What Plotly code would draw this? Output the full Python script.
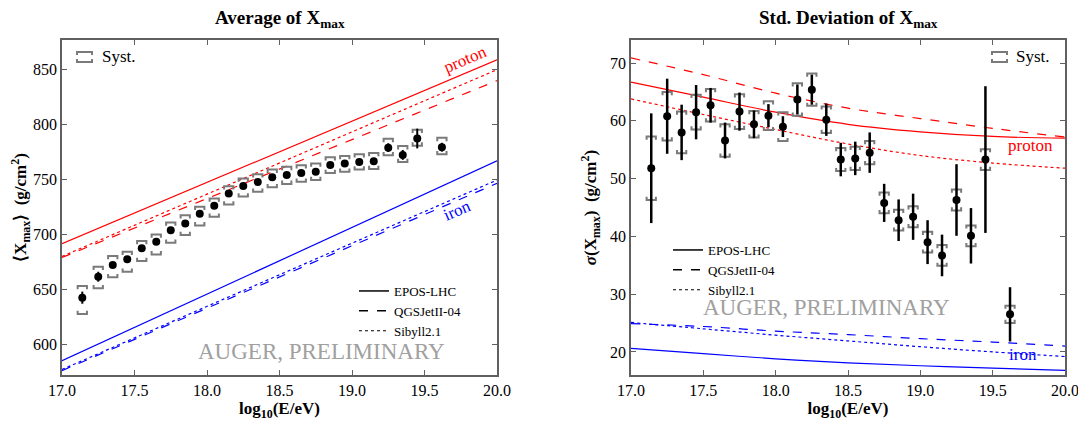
import plotly.graph_objects as go

# ---------------- data ----------------
lgE = [17.14, 17.25, 17.35, 17.45, 17.55, 17.65, 17.75, 17.85, 17.95, 18.05,
       18.15, 18.25, 18.35, 18.45, 18.55, 18.65, 18.75, 18.85, 18.95, 19.05,
       19.15, 19.25, 19.35, 19.45, 19.62]

xmax_mean = [642.4, 661.5, 672.1, 677.3, 687.3, 693.3, 703.9, 710.0, 718.7, 726.0,
             737.3, 744.0, 747.8, 752.0, 754.0, 756.0, 757.0, 763.3, 764.5, 766.0,
             766.6, 779.0, 772.4, 787.3, 779.4]
xmax_stat = [5.5, 4.5, 2.5, 2.5, 2.0, 2.0, 2.0, 2.0, 2.0, 2.0,
             2.0, 2.0, 2.0, 2.0, 2.0, 2.0, 2.0, 2.0, 2.0, 2.5,
             3.0, 4.0, 4.5, 9.0, 4.0]
xmax_sys_up = [10.6, 9.1, 8.2, 7.0, 6.7, 6.7, 7.0, 7.5, 6.5, 6.7,
               6.5, 7.0, 7.0, 7.0, 7.5, 7.0, 7.5, 7.0, 7.0, 7.0,
               7.5, 8.0, 8.0, 8.0, 8.5]
xmax_sys_dn = [14.8, 10.6, 11.2, 11.3, 11.5, 11.5, 11.5, 10.6, 10.5, 10.0,
               10.0, 9.5, 9.0, 9.0, 8.0, 8.0, 7.5, 7.5, 7.5, 7.0,
               7.0, 7.0, 6.5, 6.5, 6.5]

sigma = [51.8, 60.8, 58.0, 61.5, 62.7, 56.6, 61.6, 59.4, 60.9, 59.0,
         63.7, 65.4, 60.2, 53.3, 53.5, 54.5, 45.8, 42.8, 43.4, 39.0,
         36.7, 46.3, 40.1, 53.3, 26.5]
sigma_stat = [9.5, 6.5, 4.8, 4.7, 3.0, 3.1, 3.3, 2.4, 2.0, 1.8,
              2.6, 2.6, 2.8, 2.9, 2.9, 3.5, 3.3, 3.6, 4.0, 3.8,
              3.6, 6.2, 4.8, 12.7, 4.7]
sigma_sys = [5.5, 4.2, 3.6, 3.0, 2.8, 2.8, 3.0, 2.3, 2.5, 2.5,
             2.8, 2.8, 2.3, 2.0, 2.0, 2.0, 1.8, 1.8, 1.8, 1.8,
             1.8, 1.8, 1.8, 1.8, 1.5]

# model predictions, <Xmax> (straight lines: end points)
model_lgE_mean = [17.0, 20.0]
epos_p_mean = [691.5, 859.0]
qgs_p_mean = [679.0, 840.0]
sib_p_mean = [680.0, 850.0]
epos_fe_mean = [585.0, 767.0]
qgs_fe_mean = [576.0, 746.5]
sib_fe_mean = [577.0, 749.5]

# model predictions, sigma(Xmax)
model_lgE_sig = [17.0, 17.5, 18.0, 18.5, 19.0, 19.5, 20.0]
epos_p_sig = [66.7, 64.1, 61.5, 59.4, 58.1, 57.3, 57.0]
qgs_p_sig = [70.9, 68.0, 64.8, 62.2, 60.4, 58.7, 57.2]
sib_p_sig = [63.8, 61.1, 58.5, 56.0, 54.0, 52.7, 51.8]
epos_fe_sig = [20.6, 19.7, 18.8, 18.1, 17.6, 17.2, 16.8]
qgs_fe_sig = [24.9, 24.4, 23.6, 23.0, 22.3, 21.7, 21.0]
sib_fe_sig = [25.1, 24.0, 22.9, 21.9, 20.9, 20.0, 19.2]

model_names = ["EPOS-LHC", "QGSJetII-04", "Sibyll2.1"]

# ---------------- styling ----------------
FONT = "Times New Roman, serif"
# the page body has an 8px margin: figure is drawn 8px in from the window corner
OFF = 8
W, H = 1086 - OFF, 424 - OFF
ML, MR, MT, MB = 62 - OFF, 21, 40 - OFF, 49
PW, PH = W - ML - MR, H - MT - MB
RED, BLUE, GRAY, AX = "#ff0000", "#0000ff", "#7a7a7a", "#606060"
DASHES = ["solid", "dash", "dot"]


def px(xs):  # window pixel -> paper
    return (xs - OFF - ML) / PW


def py(ys):
    return 1 - (ys - OFF - MT) / PH


def brackets(x, y, up, dn, w, h):
    xs, ys = [], []
    for xi, yi, u, d in zip(x, y, up, dn):
        t, b = yi + u, yi - d
        xs += [xi - w, xi - w, xi + w, xi + w, None, xi - w, xi - w, xi + w, xi + w, None]
        ys += [t - h, t, t, t - h, None, b + h, b, b, b + h, None]
    return xs, ys


fig = go.Figure()

for vals, d in zip([epos_p_mean, qgs_p_mean, sib_p_mean], DASHES):
    fig.add_trace(go.Scatter(x=model_lgE_mean, y=vals, mode="lines", showlegend=False,
                             line=dict(color=RED, width=1.2, dash=d), xaxis="x", yaxis="y"))
for vals, d in zip([epos_fe_mean, qgs_fe_mean, sib_fe_mean], DASHES):
    fig.add_trace(go.Scatter(x=model_lgE_mean, y=vals, mode="lines", showlegend=False,
                             line=dict(color=BLUE, width=1.2, dash=d), xaxis="x", yaxis="y"))

bx, by = brackets(lgE, xmax_mean, xmax_sys_up, xmax_sys_dn, 0.032, 3.0)
fig.add_trace(go.Scatter(x=bx, y=by, mode="lines", showlegend=False,
                         line=dict(color=GRAY, width=2), xaxis="x", yaxis="y"))
fig.add_trace(go.Scatter(x=lgE, y=xmax_mean, mode="markers", showlegend=False,
                         marker=dict(color="black", size=8),
                         error_y=dict(type="data", array=xmax_stat, color="black",
                                      thickness=2, width=0),
                         xaxis="x", yaxis="y"))

for vals, d in zip([epos_p_sig, qgs_p_sig, sib_p_sig], DASHES):
    fig.add_trace(go.Scatter(x=model_lgE_sig, y=vals, mode="lines", showlegend=False,
                             line=dict(color=RED, width=1.2, dash=d, shape="spline"),
                             xaxis="x2", yaxis="y2"))
for vals, d in zip([epos_fe_sig, qgs_fe_sig, sib_fe_sig], DASHES):
    fig.add_trace(go.Scatter(x=model_lgE_sig, y=vals, mode="lines", showlegend=False,
                             line=dict(color=BLUE, width=1.2, dash=d, shape="spline"),
                             xaxis="x2", yaxis="y2"))

bx2, by2 = brackets(lgE, sigma, sigma_sys, sigma_sys, 0.032, 0.55)
fig.add_trace(go.Scatter(x=bx2, y=by2, mode="lines", showlegend=False,
                         line=dict(color=GRAY, width=2), xaxis="x2", yaxis="y2"))
fig.add_trace(go.Scatter(x=lgE, y=sigma, mode="markers", showlegend=False,
                         marker=dict(color="black", size=8),
                         error_y=dict(type="data", array=sigma_stat, color="black",
                                      thickness=2.5, width=0),
                         xaxis="x2", yaxis="y2"))

for name, d in zip(model_names, DASHES):
    fig.add_trace(go.Scatter(x=[None], y=[None], mode="lines", name=name,
                             line=dict(color="black", width=1.5 if d != "dot" else 1, dash=d),
                             legend="legend", xaxis="x", yaxis="y"))
for name, d in zip(model_names, DASHES):
    fig.add_trace(go.Scatter(x=[None], y=[None], mode="lines", name=name,
                             line=dict(color="black", width=1.5 if d != "dot" else 1, dash=d),
                             legend="legend2", xaxis="x2", yaxis="y2"))

axis_common = dict(showline=True, linecolor=AX, linewidth=1.5, mirror="allticks",
                   ticks="inside", ticklen=5, tickwidth=1.2, tickcolor=AX,
                   showgrid=False, zeroline=False, automargin=False,
                   tickfont=dict(family=FONT, size=16, color="black"))

xt = [17.0, 17.5, 18.0, 18.5, 19.0, 19.5, 20.0]
xtitle = dict(text="<b>log<sub>10</sub>(E/eV)</b>", font=dict(family=FONT, size=17, color="black"),
              standoff=3)

split = (497 - 62) / PW
fig.update_layout(
    width=W, height=H, margin=dict(l=ML, r=MR, t=MT, b=MB, autoexpand=False),
    paper_bgcolor="white", plot_bgcolor="white",
    font=dict(family=FONT),
    xaxis=dict(domain=[0, split], range=[17, 20], tickvals=xt, tickformat=".1f",
               title=xtitle, anchor="y", **axis_common),
    yaxis=dict(domain=[0, 1], range=[572, 877], tickvals=[600, 650, 700, 750, 800, 850],
               title=dict(text="<b>⟨X<sub>max</sub>⟩  (g/cm<sup>2</sup>)</b>",
                          font=dict(family=FONT, size=17, color="black"), standoff=7),
               anchor="x", **axis_common),
    xaxis2=dict(domain=[px(631), 1], range=[17, 20], tickvals=xt, tickformat=".1f",
                title=xtitle, anchor="y2", **axis_common),
    yaxis2=dict(domain=[0, 1], range=[16, 74], tickvals=[20, 30, 40, 50, 60, 70],
                title=dict(text="<b><i>σ</i>(X<sub>max</sub>)  (g/cm<sup>2</sup>)</b>",
                           font=dict(family=FONT, size=17, color="black"), standoff=9),
                anchor="x2", **axis_common),
    legend=dict(x=px(354), y=py(276), xanchor="left", yanchor="top",
                bgcolor="rgba(0,0,0,0)", font=dict(family=FONT, size=13, color="black"),
                itemwidth=30, tracegroupgap=0),
    legend2=dict(x=px(668), y=py(235), xanchor="left", yanchor="top",
                 bgcolor="rgba(0,0,0,0)", font=dict(family=FONT, size=13, color="black"),
                 itemwidth=30, tracegroupgap=0),
    showlegend=True,
)


def note(text, x, y, size, color, angle=0, xanchor="center"):
    return dict(text=text, x=px(x), y=py(y), xref="paper", yref="paper", showarrow=False,
                xanchor=xanchor, yanchor="middle", textangle=angle,
                font=dict(family=FONT, size=size, color=color))


ann = [
    note("<b>Average of X<sub>max</sub></b>", 279.5, 19, 19, "black"),
    note("<b>Std. Deviation of X<sub>max</sub></b>", 848, 19, 19, "black"),
    note("AUGER, PRELIMINARY", 321, 351, 23, "#a0a0a0"),
    note("AUGER, PRELIMINARY", 826, 307, 23, "#a0a0a0"),
    note("proton", 465, 60, 17, RED, angle=-23),
    note("iron", 457, 210, 17, BLUE, angle=-23),
    note("proton", 1030, 146, 17, RED),
    note("iron", 1023, 354, 17, BLUE),
    note("Syst.", 100, 57, 17, "black", xanchor="left"),
    note("Syst.", 1014, 57, 17, "black", xanchor="left"),
]
fig.update_layout(annotations=ann)

shapes = []
for x0 in (77, 992):
    x1 = x0 + 15
    y0, y1 = 52, 62
    pth = (f"M{px(x0)},{py(y0+3)} L{px(x0)},{py(y0)} L{px(x1)},{py(y0)} L{px(x1)},{py(y0+3)} "
           f"M{px(x0)},{py(y1-3)} L{px(x0)},{py(y1)} L{px(x1)},{py(y1)} L{px(x1)},{py(y1-3)}")
    shapes.append(dict(type="path", path=pth, xref="paper", yref="paper",
                       line=dict(color=GRAY, width=2)))
fig.update_layout(shapes=shapes)

fig.write_html("out.html")
